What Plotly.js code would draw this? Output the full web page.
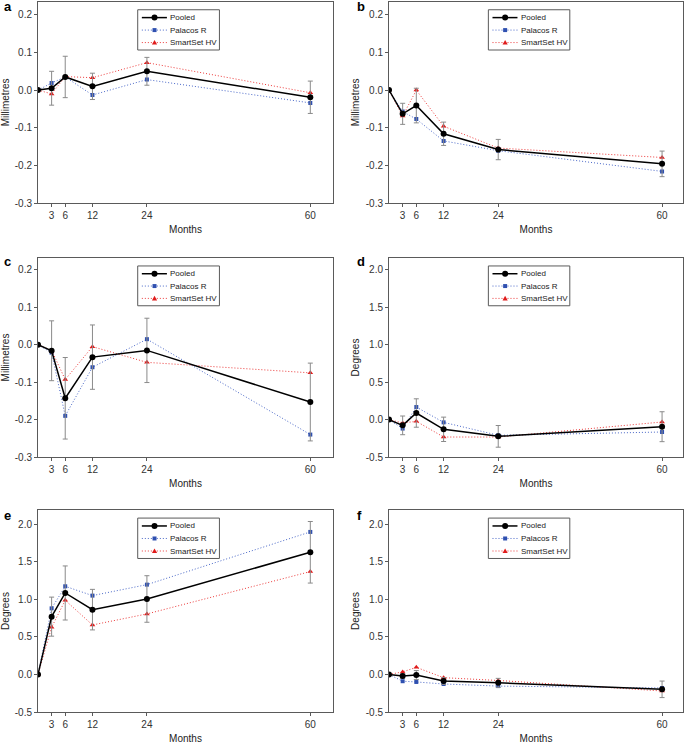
<!DOCTYPE html>
<html>
<head>
<meta charset="utf-8">
<script src="https://cdn.plot.ly/plotly-3.0.1.min.js"></script>
<style>html,body{margin:0;padding:0;background:#fff;}#chart{width:685px;height:744px;}</style>
</head>
<body>
<div id="chart"></div>
<script>
// ---- data ----
const months = [0, 3, 6, 12, 24, 60];
const seriesNames = ['Pooled', 'Palacos R', 'SmartSet HV'];
const panelLetters = ['a', 'b', 'c', 'd', 'e', 'f'];
const panelUnits = ['Millimetres', 'Millimetres', 'Millimetres', 'Degrees', 'Degrees', 'Degrees'];

// panel a
const aPooled   = [0, 0.005, 0.035, 0.010, 0.050, -0.019];
const aPooledErr= [0, 0.045, 0.055, 0.035, 0.037, 0.043];
const aPalacos  = [0, 0.019, 0.035, -0.013, 0.028, -0.034];
const aSmartSet = [0, -0.010, 0.036, 0.033, 0.073, -0.007];
// panel b
const bPooled   = [0, -0.063, -0.041, -0.116, -0.158, -0.196];
const bPooledErr= [0, 0.028, 0.046, 0.031, 0.027, 0.034];
const bPalacos  = [0, -0.057, -0.077, -0.135, -0.161, -0.216];
const bSmartSet = [0, -0.069, 0.000, -0.096, -0.154, -0.179];
// panel c
const cPooled   = [0, -0.016, -0.143, -0.033, -0.015, -0.153];
const cPooledErr= [0, 0.080, 0.109, 0.086, 0.086, 0.104];
const cPalacos  = [0, -0.021, -0.190, -0.060, 0.015, -0.240];
const cSmartSet = [0, -0.015, -0.093, -0.005, -0.047, -0.075];
// panel d
const dPooled   = [0, -0.077, 0.088, -0.130, -0.224, -0.095];
const dPooledErr= [0, 0.125, 0.190, 0.163, 0.145, 0.200];
const dPalacos  = [0, -0.120, 0.168, -0.037, -0.210, -0.166];
const dSmartSet = [0, -0.045, -0.023, -0.233, -0.233, -0.032];
// panel e
const ePooled   = [0, 0.770, 1.085, 0.863, 1.005, 1.627];
const ePooledErr= [0, 0.260, 0.360, 0.270, 0.310, 0.410];
const ePalacos  = [0, 0.880, 1.174, 1.050, 1.196, 1.898];
const eSmartSet = [0, 0.628, 0.988, 0.659, 0.806, 1.370];
// panel f
const fPooled   = [0, -0.022, -0.008, -0.088, -0.112, -0.198];
const fPooledErr= [0, 0.030, 0.060, 0.045, 0.060, 0.110];
const fPalacos  = [0, -0.090, -0.100, -0.127, -0.155, -0.180];
const fSmartSet = [0, 0.034, 0.095, -0.043, -0.080, -0.220];

// ticks
const monthTicks = [3, 6, 12, 24, 60];
const mmTickVals = [-0.3, -0.2, -0.1, 0.0, 0.1, 0.2];
const mmTickText = ['-0.3', '-0.2', '-0.1', '0.0', '0.1', '0.2'];
const degTickVals = [-0.5, 0.0, 0.5, 1.0, 1.5, 2.0];
const degTickText = ['-0.5', '0.0', '0.5', '1.0', '1.5', '2.0'];

const panels = [
  {pooled: aPooled, err: aPooledErr, pal: aPalacos, ss: aSmartSet},
  {pooled: bPooled, err: bPooledErr, pal: bPalacos, ss: bSmartSet},
  {pooled: cPooled, err: cPooledErr, pal: cPalacos, ss: cSmartSet},
  {pooled: dPooled, err: dPooledErr, pal: dPalacos, ss: dSmartSet},
  {pooled: ePooled, err: ePooledErr, pal: ePalacos, ss: eSmartSet},
  {pooled: fPooled, err: fPooledErr, pal: fPalacos, ss: fSmartSet}
];

// ---- styles / layout geometry ----
const W = 685, H = 744;
const BLUE = '#2f50b0', BLUE_LINE = '#4a68c8';
const RED = '#e01b1b', RED_LINE = '#ec3a3a';
const AXIS = '#5a5a5a';
const FONT = 'Liberation Sans, Arial, Helvetica, sans-serif';

const colDom = [[38 / W, 333 / W], [389 / W, 683 / W]];
const rowDom = [[1 - 203 / H, 1 - 1.7 / H], [1 - 457 / H, 1 - 258 / H], [1 - 712 / H, 1 - 510 / H]];
const xRanges = [[0, 65], [0, 64.6]];
const yRanges = [[-0.3, 0.235], [-0.3, 0.235], [-0.3, 0.232], [-0.5, 2.16], [-0.5, 2.19], [-0.5, 2.19]];

const traces = [];
const layout = {
  width: W, height: H,
  margin: {l: 0, r: 0, t: 0, b: 0, pad: 0},
  paper_bgcolor: '#fff', plot_bgcolor: '#fff',
  showlegend: false,
  font: {family: FONT, size: 10, color: '#222'},
  shapes: [], annotations: []
};

panels.forEach((p, i) => {
  const n = i + 1;
  const xa = 'x' + (n === 1 ? '' : n), ya = 'y' + (n === 1 ? '' : n);
  const col = i % 2, row = Math.floor(i / 2);
  // Palacos R
  traces.push({
    x: months, y: p.pal, xaxis: xa, yaxis: ya, type: 'scatter', mode: 'lines+markers',
    name: seriesNames[1], line: {color: BLUE_LINE, width: 1, dash: '1px,2px'},
    marker: {symbol: 'square', size: 4, color: BLUE}
  });
  // SmartSet HV
  traces.push({
    x: months, y: p.ss, xaxis: xa, yaxis: ya, type: 'scatter', mode: 'lines+markers',
    name: seriesNames[2], line: {color: RED_LINE, width: 1, dash: '1px,2px'},
    marker: {symbol: 'triangle-up', size: 5, color: RED}
  });
  // Pooled
  traces.push({
    x: months, y: p.pooled, xaxis: xa, yaxis: ya, type: 'scatter', mode: 'lines+markers',
    name: seriesNames[0], line: {color: '#000', width: 1.5},
    marker: {symbol: 'circle', size: 6, color: '#000'},
    error_y: {type: 'data', array: p.err, visible: true, color: '#8a8a8a', thickness: 1, width: 2.5}
  });

  const axBase = {
    showline: true, linecolor: AXIS, linewidth: 1, mirror: true,
    ticks: 'outside', ticklen: 3, tickwidth: 1, tickcolor: AXIS,
    showgrid: false, zeroline: false, fixedrange: true,
    tickfont: {family: FONT, size: 10, color: '#333'}
  };
  layout['xaxis' + (n === 1 ? '' : n)] = Object.assign({}, axBase, {
    domain: colDom[col], range: xRanges[col], anchor: ya,
    tickmode: 'array', tickvals: monthTicks, ticktext: monthTicks.map(String),
    title: {text: 'Months', font: {family: FONT, size: 10, color: '#222'}, standoff: 5}
  });
  const isMm = panelUnits[i] === 'Millimetres';
  layout['yaxis' + (n === 1 ? '' : n)] = Object.assign({}, axBase, {
    domain: rowDom[row], range: yRanges[i], anchor: xa,
    tickmode: 'array', tickvals: isMm ? mmTickVals : degTickVals, ticktext: isMm ? mmTickText : degTickText,
    title: {text: panelUnits[i], font: {family: FONT, size: 10, color: '#222'}, standoff: 4}
  });

  // panel letter
  const letterY = [6.5, 261, 515][row];
  layout.annotations.push({
    text: '<b>' + panelLetters[i] + '</b>', xref: 'paper', yref: 'paper',
    x: col === 0 ? 2 / W : 355 / W, y: 1 - letterY / H, xanchor: 'left', yanchor: 'middle',
    showarrow: false, font: {family: FONT, size: 13, color: '#000'}
  });

  // custom legend box (relative to subplot domain)
  const xr = xa + ' domain', yr = ya + ' domain';
  layout.shapes.push({type: 'rect', xref: xr, yref: yr, x0: 0.338, x1: 0.615, y0: 0.76, y1: 0.96,
    line: {color: AXIS, width: 1}, fillcolor: 'rgba(255,255,255,0)'});
  const rowsY = [0.921, 0.859, 0.797];
  const lineStyles = [
    {color: '#000', width: 1.5, dash: 'solid'},
    {color: BLUE_LINE, width: 1, dash: '1px,2px'},
    {color: RED_LINE, width: 1, dash: '1px,2px'}
  ];
  rowsY.forEach((yy, k) => {
    layout.shapes.push({type: 'line', xref: xr, yref: yr, x0: 0.352, x1: 0.437, y0: yy, y1: yy, line: lineStyles[k]});
    const mk = {xref: xr, yref: yr, xsizemode: 'pixel', ysizemode: 'pixel', xanchor: 0.395, yanchor: yy, line: {width: 0}};
    if (k === 0) layout.shapes.push(Object.assign({type: 'circle', x0: -3, x1: 3, y0: -3, y1: 3, fillcolor: '#000'}, mk));
    if (k === 1) layout.shapes.push(Object.assign({type: 'rect', x0: -2, x1: 2, y0: -2, y1: 2, fillcolor: BLUE}, mk));
    if (k === 2) layout.shapes.push(Object.assign({type: 'path', path: 'M -2.6 -2 L 2.6 -2 L 0 2.6 Z', fillcolor: RED}, mk));
    layout.annotations.push({
      text: seriesNames[k], xref: xr, yref: yr, x: 0.442, y: yy, xanchor: 'left', yanchor: 'middle',
      showarrow: false, font: {family: FONT, size: 8, color: '#222'}
    });
  });
});

Plotly.newPlot('chart', traces, layout, {staticPlot: true, displayModeBar: false});
</script>
</body>
</html>
